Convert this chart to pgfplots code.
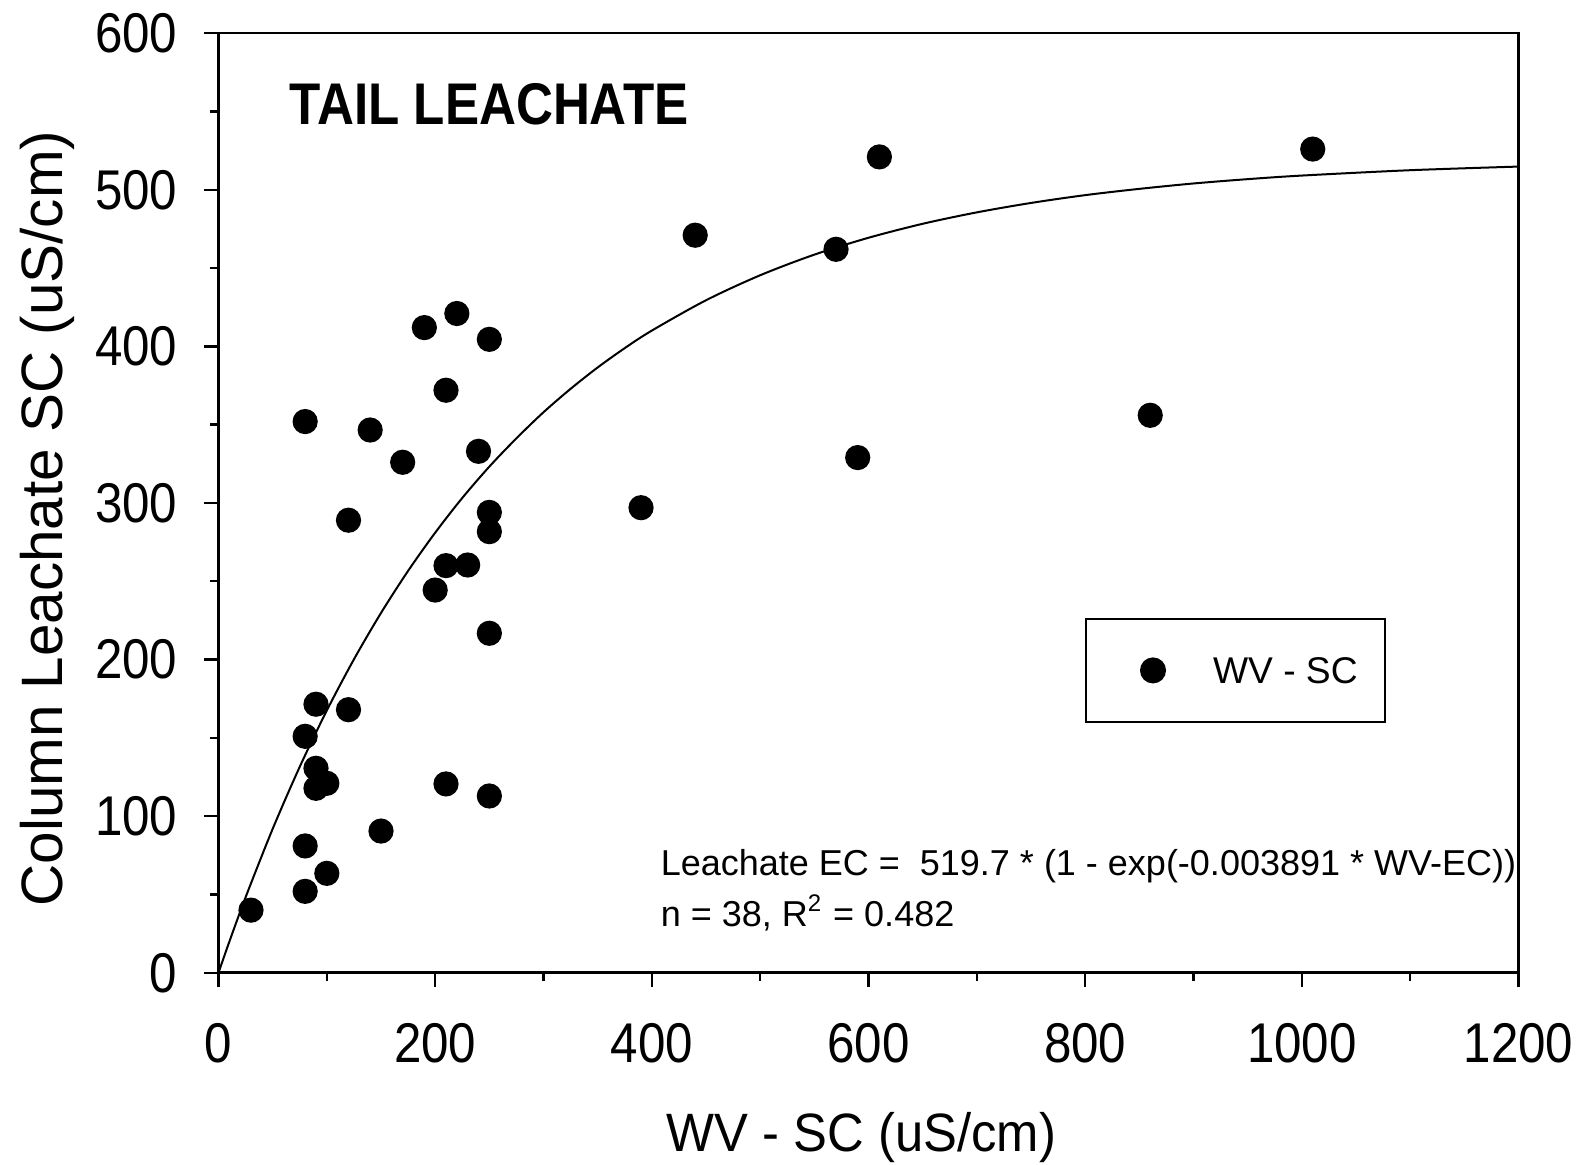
\documentclass[border=0pt]{standalone}
\usepackage{fontspec}
\setmainfont{Liberation Sans}
\newfontfamily\tickfont{Liberation Sans}[FakeStretch=0.88]
\newfontfamily\labelfont{Liberation Sans}[FakeStretch=0.94]
\newfontfamily\titlefont{Liberation Sans}[FakeStretch=0.87]
\usepackage{pgfplots}
\usepackage{pgfplotstable}
\pgfplotsset{compat=1.18}

\pgfplotstableread{
x y
30 40
80 151
90 171.5
80 81
80 52
100 63.5
90 130.6
90 117.8
100 121
80 352
120 168
120 289
140 346.6
150 90.5
170 326
190 412
200 244.4
210 372
210 260
210 120.6
220 421
230 260.4
240 333
250 404.5
250 294
250 281.7
250 216.8
250 112.9
390 297
440 471
570 462
590 329
610 521
860 356
1010 526
}\pointsdata

\pgfplotstableread{
x y
0 0
10 19.83
25 48.18
50 91.88
75 131.54
100 167.51
125 200.15
150 229.77
175 256.64
200 281.03
225 303.2
250 323.23
275 341.3
300 357.96
325 372.9
350 386.56
375 398.9
400 410.10
450 429.47
500 445.43
550 458.6
600 469.37
650 478.3
700 485.59
750 491.6
800 496.59
850 500.6
900 504.04
950 506.8
1000 509.09
1100 512.51
1200 514.83
}\fitdata

\begin{document}
\begin{tikzpicture}
\begin{axis}[
  scale only axis,
  width=325.03pt, height=234.9pt,
  xmin=0, xmax=1200, ymin=0, ymax=600,
  xtick={0,200,...,1200}, ytick={0,100,...,600},
  minor x tick num=1, minor y tick num=1,
  tick align=outside,
  xtick pos=left, ytick pos=left,
  major tick length=3.5pt, minor tick length=2pt,
  tick style={black, line width=0.6pt},
  axis line style={black, line width=0.65pt},
  clip=false,
  /pgf/number format/1000 sep={},
  /pgf/number format/assume math mode=true,
  ticklabel style={font=\tickfont\fontsize{14}{16}\selectfont},
  xticklabel style={anchor=base, yshift=-19pt},
  yticklabel style={anchor=east, inner xsep=0pt, xshift=-6.6pt},
  xlabel={WV - SC (uS/cm)},
  xlabel style={at={(axis description cs:0.4946,-0.1904)}, anchor=base, font=\labelfont\fontsize{13.5}{16}\selectfont},
  ylabel={Column Leachate SC (uS/cm)},
  ylabel style={at={(axis description cs:-0.1201,0.4834)}, anchor=base, font=\fontsize{14.6}{17}\selectfont},
  legend cell align=left,
  legend style={at={(axis cs:799.8,226.8)}, anchor=north west, draw=black, line width=0.6pt,
    inner xsep=0pt, inner ysep=0pt,
    nodes={inner sep=0pt, text height=6.66pt, text depth=0pt},
    font=\fontsize{9.3}{11}\selectfont},
]
\addplot[black, line width=0.5pt, smooth, forget plot] table[x=x,y=y] {\fitdata};
\addplot[only marks, mark=*, mark size=2.95pt, black,
  legend image code/.code={\path[draw=none, fill=none] (-16.7pt,-12.9pt) rectangle (15pt,12.9pt);
    \draw[##1] plot coordinates {(0pt,0pt)};}]
  table[x=x,y=y] {\pointsdata};
\addlegendentry{WV - SC\hspace*{6.9pt}}
\node[anchor=base west, inner sep=0pt, font=\titlefont\bfseries\fontsize{14.7}{17}\selectfont] at (axis cs:65,542) {TAIL LEACHATE};
\node[anchor=base west, inner sep=0pt, font=\fontsize{9}{11}\selectfont] at (axis cs:407.5,62) {Leachate EC =\ \ 519.7 * (1 - exp(-0.003891 * WV-EC))};
\node[anchor=base west, inner sep=0pt, font=\fontsize{9}{11}\selectfont] at (axis cs:407.5,29.5) {n = 38, R\textsuperscript{2} = 0.482};
\coordinate (bbsw) at (axis description cs:-0.16806,-0.20456);
\coordinate (bbne) at (axis description cs:1.04646,1.03533);
\end{axis}
\pgfresetboundingbox
\path (bbsw) rectangle (bbne);
\end{tikzpicture}
\end{document}
